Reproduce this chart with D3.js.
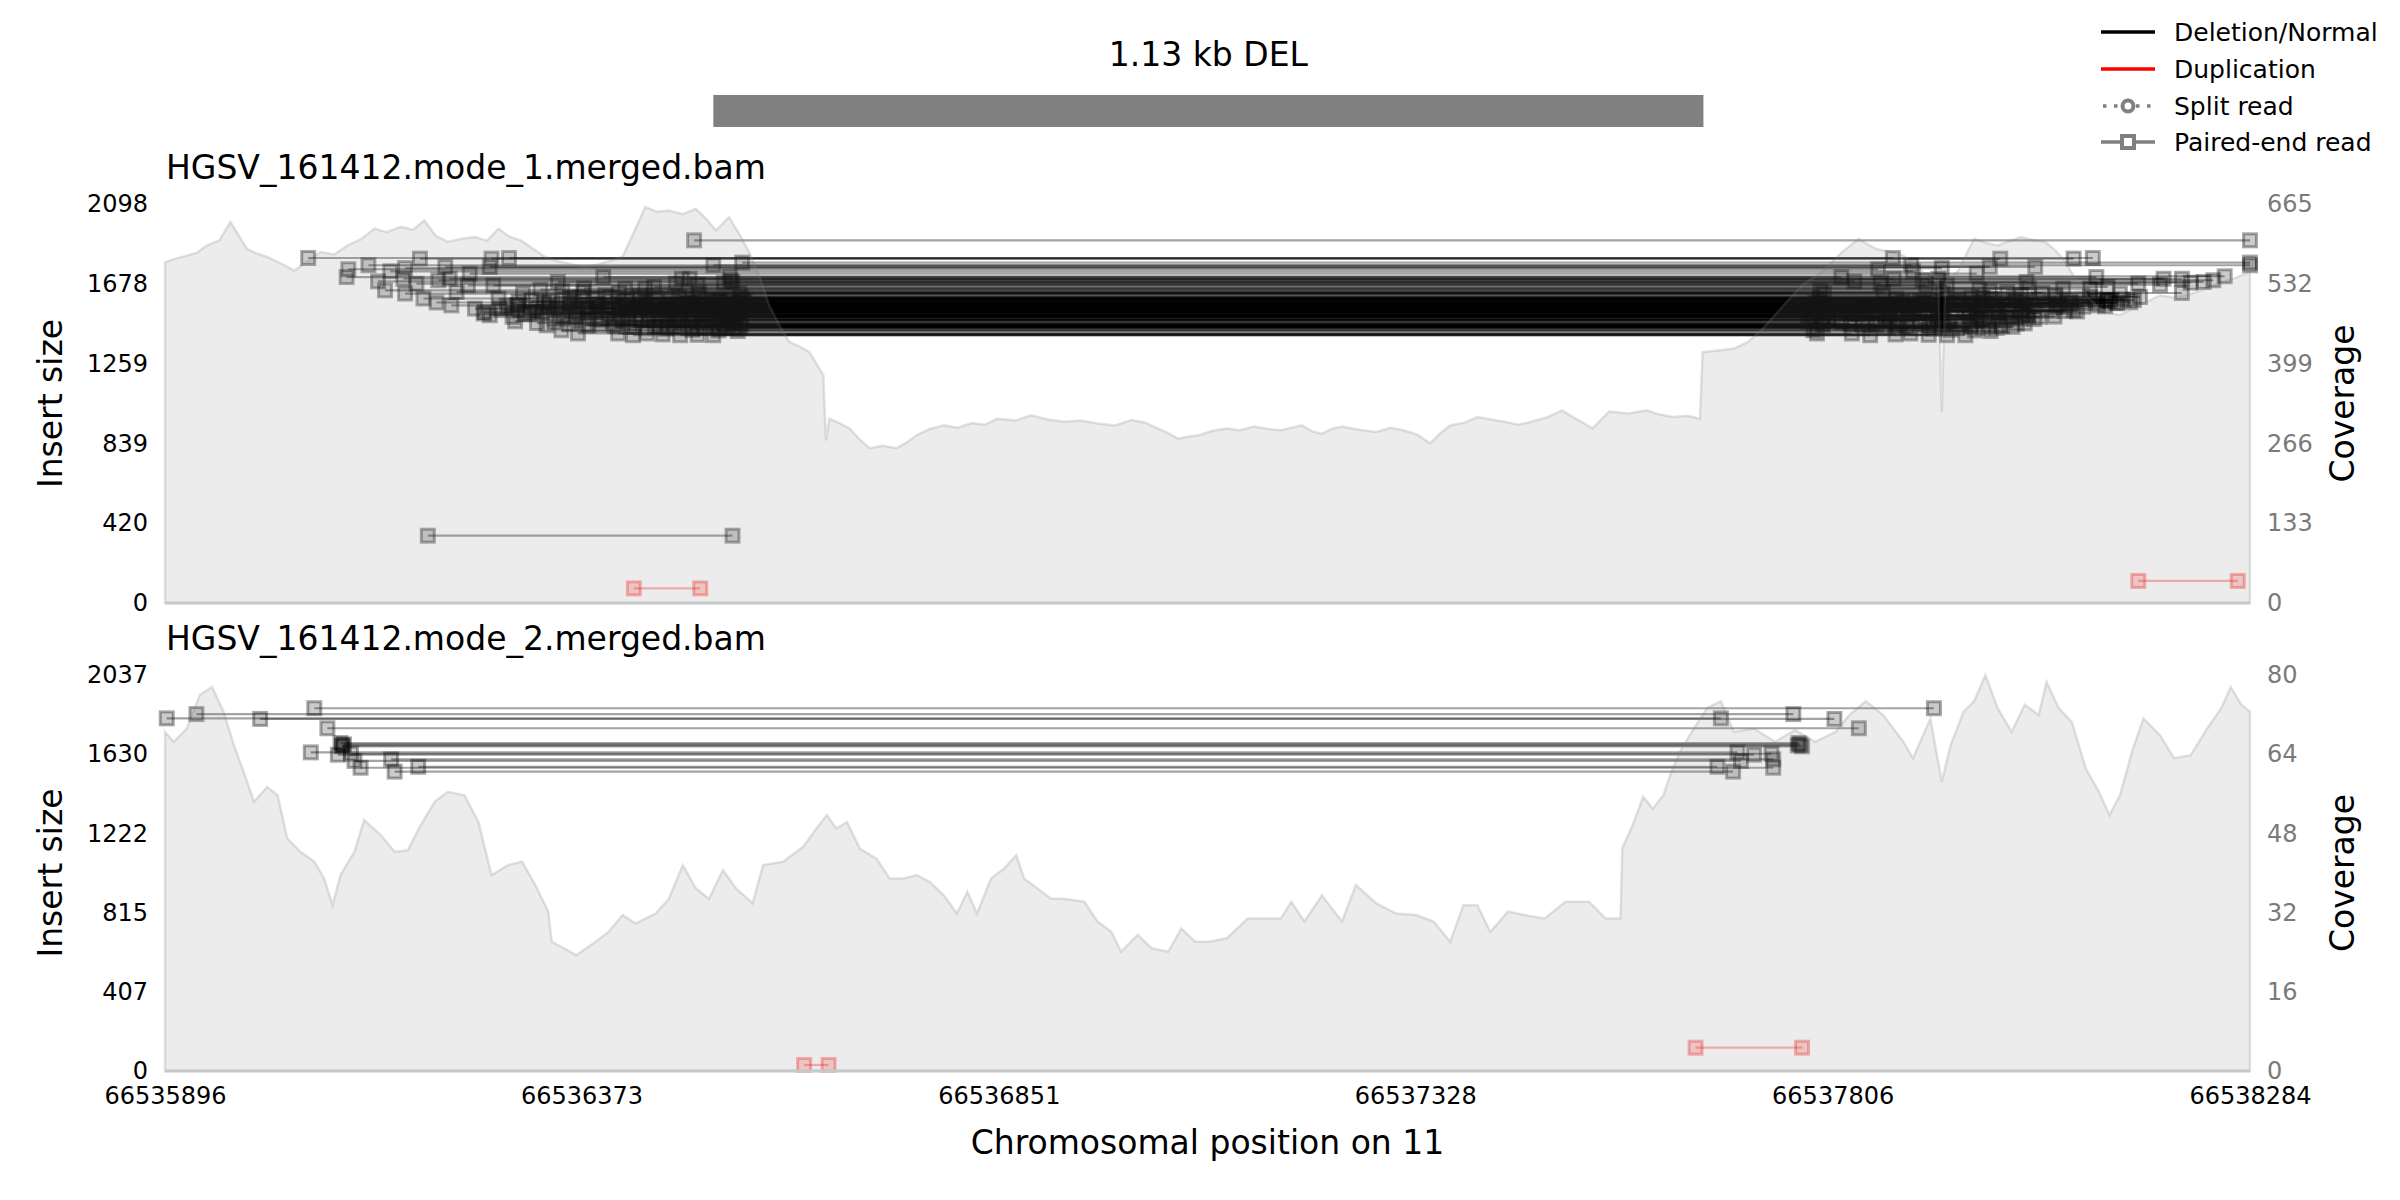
<!DOCTYPE html>
<html>
<head>
<meta charset="utf-8">
<script src="https://cdn.jsdelivr.net/npm/d3@7"></script>
<style>
  body { margin: 0; background: #fff; }
  text { font-family: "DejaVu Sans", sans-serif; }
</style>
</head>
<body>
<div id="chart"></div>
<script>
// ---- data ----
const regionStart = 66535896, regionEnd = 66538284;
const xTicks = [66535896, 66536373, 66536851, 66537328, 66537806, 66538284];
const svStart = 66536524, svEnd = 66537658;
const svLabel = '1.13 kb DEL';

const sampleNames = ['HGSV_161412.mode_1.merged.bam', 'HGSV_161412.mode_2.merged.bam'];
const insertTicks1 = [0, 420, 839, 1259, 1678, 2098];
const coverTicks1 = [0, 133, 266, 399, 532, 665];
const insertTicks2 = [0, 407, 815, 1222, 1630, 2037];
const coverTicks2 = [0, 16, 32, 48, 64, 80];

// coverage [position, depth]
const coverage1 = [
  [66535896,568],[66535908,574],[66535921,579],[66535933,584],[66535944,596],[66535958,604],[66535971,635],[66535990,590],[66536000,583],[66536013,577],
  [66536030,565],[66536044,554],[66536060,570],[66536074,585],[66536090,581],[66536105,596],[66536120,606],[66536136,624],[66536150,618],[66536166,627],[66536180,622],[66536193,638],
  [66536206,612],[66536220,602],[66536236,607],[66536251,610],[66536265,604],[66536278,624],[66536290,611],[66536304,604],[66536318,590],[66536331,577],[66536345,570],[66536358,566],
  [66536374,560],[66536389,563],[66536405,570],[66536420,577],[66536435,624],[66536446,660],[66536460,652],[66536473,654],[66536489,648],[66536504,657],
  [66536516,640],[66536527,621],[66536542,643],[66536555,612],[66536565,585],[66536578,540],[66536588,496],[66536600,462],[66536611,435],[66536622,428],[66536634,418],
  [66536650,380],[66536653,271],[66536657,307],[66536668,300],[66536680,291],[66536692,272],[66536703,258],[66536718,262],[66536734,258],
  [66536746,268],[66536757,280],[66536772,290],[66536788,296],[66536804,292],[66536820,300],[66536835,297],[66536849,307],[66536870,304],[66536888,313],[66536907,306],[66536926,302],
  [66536945,304],[66536964,299],[66536984,296],[66537003,305],[66537018,301],[66537033,291],[66537045,283],[66537056,274],[66537068,277],[66537081,280],[66537096,287],[66537112,291],
  [66537127,288],[66537143,294],[66537160,290],[66537174,288],[66537198,296],[66537210,286],[66537221,282],[66537232,290],[66537244,294],[66537262,289],[66537283,285],
  [66537300,292],[66537314,288],[66537330,281],[66537345,266],[66537356,282],[66537368,296],[66537385,301],[66537399,310],[66537415,306],[66537430,302],[66537446,297],[66537461,302],
  [66537480,310],[66537496,321],[66537512,307],[66537531,291],[66537550,319],[66537572,316],[66537593,321],[66537608,314],[66537623,310],[66537640,312],[66537654,307],
  [66537657,418],[66537675,421],[66537693,424],[66537709,435],[66537725,456],[66537740,480],[66537756,506],[66537771,530],[66537794,552],
  [66537805,568],[66537817,585],[66537836,607],[66537846,598],[66537856,590],[66537872,585],[66537887,579],[66537903,560],[66537918,541],[66537927,535],
  [66537931,319],[66537935,535],[66537949,552],[66537968,607],[66537982,600],[66537995,596],[66538008,603],[66538022,610],[66538036,605],
  [66538049,602],[66538061,588],[66538073,568],[66538088,530],[66538100,508],[66538111,491],[66538123,484],[66538135,480],[66538146,488],[66538158,496],
  [66538170,505],[66538181,513],[66538196,509],[66538212,513],[66538228,521],[66538243,530],[66538255,536],[66538266,541],[66538284,552]
];
const coverage2 = [
  [66535896,68.5],[66535906,66.5],[66535921,69.2],[66535936,76],[66535950,77.6],[66535963,72.6],
  [66535975,65.8],[66535986,60.5],[66535998,54.4],[66536013,57.4],[66536025,55.7],[66536036,47],
  [66536051,44.3],[66536067,42.3],[66536078,39],[66536088,33.5],[66536097,39.6],[66536113,44.3],
  [66536124,50.7],[66536143,47.7],[66536159,44.3],[66536174,44.6],[66536189,49.7],[66536205,54.4],
  [66536220,56.4],[66536239,55.7],[66536255,50.3],[66536270,39.6],[66536289,41.6],[66536305,42.3],
  [66536320,37.6],[66536335,32.2],[66536339,26.1],[66536354,24.7],[66536367,23.4],[66536389,26.1],
  [66536404,28.1],[66536420,31.5],[66536435,29.8],[66536458,31.8],[66536473,34.8],[66536489,41.6],
  [66536504,36.9],[66536519,34.8],[66536535,40.6],[66536550,36.9],[66536569,33.9],[66536581,41.6],
  [66536604,42.3],[66536627,45.3],[66536642,49],[66536654,51.7],[66536665,49],[66536677,50.3],
  [66536692,44.9],[66536711,42.9],[66536726,38.9],[66536742,38.9],[66536757,39.6],[66536772,38.2],
  [66536788,35.5],[66536803,31.8],[66536815,36.2],[66536826,31.8],[66536842,38.9],[66536857,40.9],
  [66536871,43.6],[66536880,38.9],[66536895,36.9],[66536911,34.8],[66536926,34.8],[66536949,34.2],
  [66536964,30.2],[66536980,28.1],[66536991,24.1],[66537010,27.5],[66537026,24.8],[66537045,24.1],
  [66537060,28.8],[66537076,26.1],[66537091,26.1],[66537112,26.8],[66537136,30.8],[66537151,30.8],
  [66537174,30.8],[66537186,34.2],[66537201,30.2],[66537221,35.5],[66537244,30.2],[66537260,37.6],
  [66537283,33.9],[66537306,31.8],[66537329,31.5],[66537349,30.2],[66537368,26.1],[66537383,33.5],
  [66537399,33.5],[66537414,28.1],[66537434,32.2],[66537453,31.5],[66537476,30.8],[66537500,34.2],
  [66537527,34.2],[66537546,30.8],[66537563,30.8],[66537565,45],[66537577,49.7],[66537589,55.4],
  [66537600,53],[66537612,55.7],[66537620,59.8],[66537631,64.5],[66537647,69.2],[66537662,73.3],
  [66537678,74.7],[66537693,68.5],[66537716,69.2],[66537740,66.5],[66537763,68.9],[66537786,66.5],
  [66537809,68.5],[66537825,71.9],[66537844,74.7],[66537864,71.9],[66537887,66.5],[66537898,63.2],
  [66537918,71.2],[66537931,58.4],[66537941,65.8],[66537956,72.6],[66537968,74.7],[66537981,80],
  [66537995,73.3],[66538011,68.5],[66538026,74],[66538042,71.9],[66538051,78.6],[66538065,73.3],
  [66538080,70.5],[66538096,61.1],[66538111,56.4],[66538123,51.7],[66538135,55.7],[66538150,65.2],
  [66538162,71.2],[66538181,67.8],[66538197,63.2],[66538216,63.8],[66538235,69.2],[66538251,73.3],
  [66538262,77.6],[66538274,74],[66538284,72.6]
];

// paired-end reads [start, end, insert size]
const delReads1 = [
  [66536060,66537875,1814],[66536106,66537858,1755],[66536104,66537816,1714],[66536129,66537896,1776],
  [66536140,66537831,1691],[66536148,66537792,1644],[66536154,66537898,1744],[66536171,66537931,1761],
  [66536169,66537876,1705],[66536171,66537796,1627],[66536188,66537998,1811],[66536184,66537861,1679],
  [66536192,66537791,1601],[66536207,66537786,1580],[66536217,66537986,1767],[66536222,66537927,1705],
  [66536209,66537909,1697],[66536224,66537788,1565],[66536230,66537864,1635],[66536245,66537971,1732],
  [66536243,66537913,1670],[66536251,66537800,1548],[66536261,66537783,1522],[66536270,66538082,1811],
  [66536268,66538038,1767],[66536290,66538104,1814],[66536272,66537937,1670],[66536268,66537782,1513],
  [66536278,66537879,1601],[66536299,66537864,1565],[66536297,66537778,1481],[66536306,66537932,1627],
  [66536314,66537836,1522],[66536333,66537795,1460],[66536346,66538028,1688],[66536345,66537893,1548],
  [66536350,66537784,1434],[66536369,66537788,1417],[66536364,66537947,1583],[66536375,66538006,1635],
  [66536398,66538108,1714],[66536390,66537920,1530],[66536415,66537828,1417],[66536423,66538070,1653],
  [66536432,66537849,1408],[66536446,66538101,1653],[66536448,66537895,1417],[66536425,66537958,1530],
  [66536486,66537937,1408],[66536488,66538185,1705],[66536497,66538206,1705],[66536471,66537998,1530],
  [66536524,66538284,1776],[66536557,66538284,1790],[66536524,66537958,1408],[66536547,66538017,1469],
  [66536543,66538255,1718],[66536516,66538030,1513],[66536556,66538158,1609],[66536546,66538231,1688],
  [66536544,66538242,1697],[66536554,66538206,1630],[66536508,66538135,1627],[66536532,66538124,1592],
  [66536545,66538110,1565],[66536543,66538082,1539],[66536498,66538063,1565],[66536536,66537998,1460],
  [66536502,66538284,1907],
  [66536281,66537821,1540],[66536288,66537846,1558],[66536294,66537801,1505],[66536301,66537886,1585],
  [66536308,66537828,1520],[66536316,66537906,1590],[66536322,66537794,1472],[66536327,66537856,1528],
  [66536336,66537924,1588],[66536342,66537816,1474],[66536348,66537871,1523],[66536354,66537950,1596],
  [66536359,66537826,1466],[66536366,66537892,1526],[66536372,66537978,1606],[66536377,66537840,1462],
  [66536383,66537911,1528],[66536389,66537988,1598],[66536394,66537856,1462],[66536401,66537934,1533],
  [66536406,66538014,1608],[66536412,66537866,1455],[66536418,66537956,1538],[66536424,66538016,1592],
  [66536429,66537881,1452],[66536436,66537971,1536],[66536441,66538042,1600],[66536447,66537898,1450],
  [66536452,66537989,1537],[66536458,66538061,1603],[66536463,66537916,1452],[66536469,66538006,1540],
  [66536475,66538074,1598],[66536480,66537931,1451],[66536486,66538021,1536],[66536492,66538092,1600],
  [66536498,66537948,1449],[66536503,66538038,1535],[66536509,66538106,1597],[66536514,66537964,1450],
  [66536520,66538056,1536],[66536526,66538121,1595],[66536531,66537978,1447],[66536537,66538072,1535],
  [66536542,66538139,1597],[66536548,66537994,1446],[66536553,66538086,1533],[66536558,66538151,1593],
  [66536506,66537916,1410],[66536466,66537878,1412],[66536496,66538066,1570],[66536476,66538036,1562],
  [66536456,66538016,1560],[66536436,66537996,1558],[66536416,66537976,1557],[66536416,66538046,1630],
  [66536351,66537986,1640],[66536456,66538121,1662],[66536506,66538181,1674],[66536376,66538031,1655],
  [66536326,66537974,1648],[66536481,66538156,1680],[66536536,66538216,1684],[66536396,66537881,1485],
  [66536441,66537926,1488],[66536486,66537976,1492],[66536531,66538021,1495],[66536366,66537871,1505],
  [66536416,66537926,1510],[66536461,66537971,1512],[66536511,66538024,1514],[66536336,66537911,1575],
  [66536391,66537968,1577],[66536446,66538024,1578],[66536501,66538079,1580],[66536551,66538132,1576],
  [66536321,66537871,1550],[66536381,66537931,1552],[66536426,66537978,1553],[66536521,66538075,1556],
  [66536556,66538026,1470],
  [66536262,66537800,1530],[66536279,66537838,1552],[66536300,66537870,1566],[66536318,66537858,1532],
  [66536335,66537896,1555],[66536352,66537866,1508],[66536360,66537941,1575],[66536370,66537900,1524],
  [66536381,66537846,1459],[66536393,66537963,1566],[66536404,66537928,1519],[66536410,66537878,1462],
  [66536421,66537990,1565],[66536427,66537932,1498],[66536434,66537891,1451],[66536440,66538007,1562],
  [66536450,66537962,1507],[66536457,66537917,1454],[66536461,66538034,1569],[66536468,66537981,1508],
  [66536473,66537935,1457],[66536479,66538053,1571],[66536484,66537995,1506],[66536490,66537953,1459],
  [66536495,66538075,1576],[66536500,66538011,1506],[66536505,66537965,1455],[66536512,66538093,1577],
  [66536518,66538030,1507],[66536523,66537985,1457],[66536528,66538110,1578],[66536533,66538043,1505],
  [66536540,66538000,1455],[66536546,66538129,1578],[66536550,66538060,1506],[66536555,66538012,1452],
  [66536560,66538147,1581],[66536530,66538120,1587],[66536485,66538101,1611],[66536440,66538061,1617],
  [66536400,66538022,1619],[66536360,66537965,1603],[66536330,66537910,1578],[66536300,66537840,1538],
  [66536470,66537921,1443],[66536500,66537941,1437],[66536530,66537969,1433],[66536552,66537987,1430],
  [66536420,66537906,1483],[66536450,66537940,1487],[66536480,66537972,1490],[66536510,66538005,1491],
  [66536540,66538037,1493],[66536380,66537930,1546],[66536410,66537962,1547],[66536440,66537994,1549],
  [66536470,66538026,1552],[66536500,66538061,1555],[66536530,66538093,1558],[66536555,66538118,1560],
  [66536197,66536546,354]
];
const dupReads1 = [[66536433,66536509,77],[66538156,66538270,116]];

const delReads2 = [
  [66535932,66537761,1836],[66536067,66537922,1866],[66535898,66537678,1814],[66536005,66537808,1811],
  [66536082,66537836,1763],[66536097,66537767,1687],[66536099,66537771,1670],[66536101,66537769,1680],
  [66536099,66537766,1675],[66536063,66537697,1639],[66536094,66537716,1627],[66536109,66537736,1632],
  [66536113,66537701,1595],[66536155,66537738,1603],[66536120,66537738,1560],[66536186,66537674,1565],
  [66536159,66537692,1540]
];
const dupReads2 = [[66536628,66536656,31],[66537649,66537771,120]];

const legendLabels = ['Deletion/Normal', 'Duplication', 'Split read', 'Paired-end read'];

// ---- layout ----
const width = 2400, height = 1200;
const plotLeft = 165, plotRight = 2250;

const svg = d3.select('#chart').append('svg')
  .attr('width', width)
  .attr('height', height)
  .style('background', '#fff');

const x = d3.scaleLinear()
  .domain([regionStart, regionEnd])
  .range([plotLeft, plotRight]);

// SV bar and its title
svg.append('text')
  .attr('x', x((svStart + svEnd) / 2))
  .attr('y', 66)
  .attr('text-anchor', 'middle')
  .attr('font-size', 33)
  .text(svLabel);

svg.append('rect')
  .attr('x', x(svStart))
  .attr('y', 95)
  .attr('width', x(svEnd) - x(svStart))
  .attr('height', 32)
  .attr('fill', '#808080');

const panels = [
  { name: sampleNames[0], top: 204, bottom: 603, insTicks: insertTicks1, covTicks: coverTicks1,
    cov: coverage1, del: delReads1, dup: dupReads1 },
  { name: sampleNames[1], top: 675, bottom: 1071, insTicks: insertTicks2, covTicks: coverTicks2,
    cov: coverage2, del: delReads2, dup: dupReads2 }
];

panels.forEach((p, i) => {
  const yIns = d3.scaleLinear()
    .domain([0, d3.max(p.insTicks)])
    .range([p.bottom, p.top]);
  const yCov = d3.scaleLinear()
    .domain([0, d3.max(p.covTicks)])
    .range([p.bottom, p.top]);

  const g = svg.append('g');

  // reads: lines first, then the end markers
  const drawReads = function(reads, color, lineOpacity, markOpacity) {
    g.append('g').selectAll('line')
      .data(reads)
      .enter()
      .append('line')
      .attr('x1', d => x(d[0]))
      .attr('x2', d => x(d[1]))
      .attr('y1', d => yIns(d[2]))
      .attr('y2', d => yIns(d[2]))
      .attr('stroke', color)
      .attr('stroke-opacity', lineOpacity)
      .attr('stroke-width', 2.2);

    const ends = [];
    reads.forEach(d => { ends.push([d[0], d[2]]); ends.push([d[1], d[2]]); });
    g.append('g').selectAll('rect')
      .data(ends)
      .enter()
      .append('rect')
      .attr('x', d => x(d[0]) - 6.5)
      .attr('y', d => yIns(d[1]) - 6.5)
      .attr('width', 13)
      .attr('height', 13)
      .attr('fill', color)
      .attr('fill-opacity', markOpacity * 0.6)
      .attr('stroke', color)
      .attr('stroke-opacity', markOpacity)
      .attr('stroke-width', 3);
  };
  drawReads(p.del, '#000', 0.36, 0.34);
  drawReads(p.dup, '#ff0000', 0.3, 0.3);

  // coverage on top, semi transparent
  const area = d3.area()
    .x(d => x(d[0]))
    .y0(p.bottom)
    .y1(d => yCov(d[1]));

  g.append('path')
    .datum(p.cov)
    .attr('d', area)
    .attr('fill', '#808080')
    .attr('fill-opacity', 0.15)
    .attr('stroke', '#808080')
    .attr('stroke-opacity', 0.22)
    .attr('stroke-width', 2.5);

  g.append('line')
    .attr('x1', plotLeft)
    .attr('x2', plotRight)
    .attr('y1', p.bottom)
    .attr('y2', p.bottom)
    .attr('stroke', '#c8c8c8')
    .attr('stroke-width', 3);

  // axes
  const left = g.append('g')
    .attr('transform', `translate(${plotLeft},0)`)
    .call(d3.axisLeft(yIns).tickValues(p.insTicks).tickSize(0).tickPadding(17).tickFormat(d3.format('d')));
  left.select('.domain').remove();
  left.selectAll('text').attr('font-size', 24).attr('font-family', '"DejaVu Sans", sans-serif').attr('fill', '#000');

  const right = g.append('g')
    .attr('transform', `translate(${plotRight},0)`)
    .call(d3.axisRight(yCov).tickValues(p.covTicks).tickSize(0).tickPadding(17).tickFormat(d3.format('d')));
  right.select('.domain').remove();
  right.selectAll('text').attr('font-size', 24).attr('font-family', '"DejaVu Sans", sans-serif').attr('fill', '#7a7a7a');

  // titles
  g.append('text')
    .attr('x', plotLeft + 1)
    .attr('y', p.top - 25)
    .attr('font-size', 33)
    .text(p.name);

  const mid = (p.top + p.bottom) / 2;
  g.append('text')
    .attr('transform', `translate(62,${mid}) rotate(-90)`)
    .attr('text-anchor', 'middle')
    .attr('font-size', 33)
    .text('Insert size');

  g.append('text')
    .attr('transform', `translate(2354,${mid}) rotate(-90)`)
    .attr('text-anchor', 'middle')
    .attr('font-size', 33)
    .text('Coverage');

  if (i === panels.length - 1) {
    const bottomAxis = g.append('g')
      .attr('transform', `translate(0,${p.bottom})`)
      .call(d3.axisBottom(x).tickValues(xTicks).tickSize(0).tickPadding(16).tickFormat(d3.format('d')));
    bottomAxis.select('.domain').remove();
    bottomAxis.selectAll('text').attr('font-size', 24).attr('font-family', '"DejaVu Sans", sans-serif').attr('fill', '#000');
  }
});

svg.append('text')
  .attr('x', x((regionStart + regionEnd) / 2))
  .attr('y', 1154)
  .attr('text-anchor', 'middle')
  .attr('font-size', 33)
  .text('Chromosomal position on 11');

// legend
const legend = svg.append('g').attr('transform', 'translate(2101,0)');
const rowY = [32, 69, 106, 142];
legendLabels.forEach((label, i) => {
  const y = rowY[i];
  const line = legend.append('line')
    .attr('x1', 0).attr('x2', 54)
    .attr('y1', y).attr('y2', y)
    .attr('stroke-width', 3.5);
  if (i === 0) line.attr('stroke', '#000');
  if (i === 1) line.attr('stroke', '#ff0000');
  if (i === 2) {
    line.attr('stroke', '#808080').attr('stroke-dasharray', '3.5,7.5').attr('x1', 2);
    legend.append('circle')
      .attr('cx', 27).attr('cy', y).attr('r', 5.5)
      .attr('fill', '#fff').attr('stroke', '#808080').attr('stroke-width', 4);
  }
  if (i === 3) {
    line.attr('stroke', '#808080');
    legend.append('rect')
      .attr('x', 21).attr('y', y - 6).attr('width', 12).attr('height', 12)
      .attr('fill', '#fff').attr('stroke', '#808080').attr('stroke-width', 4);
  }
  legend.append('text')
    .attr('x', 73)
    .attr('y', y)
    .attr('dy', '0.35em')
    .attr('font-size', 25)
    .text(label);
});
</script>
</body>
</html>
